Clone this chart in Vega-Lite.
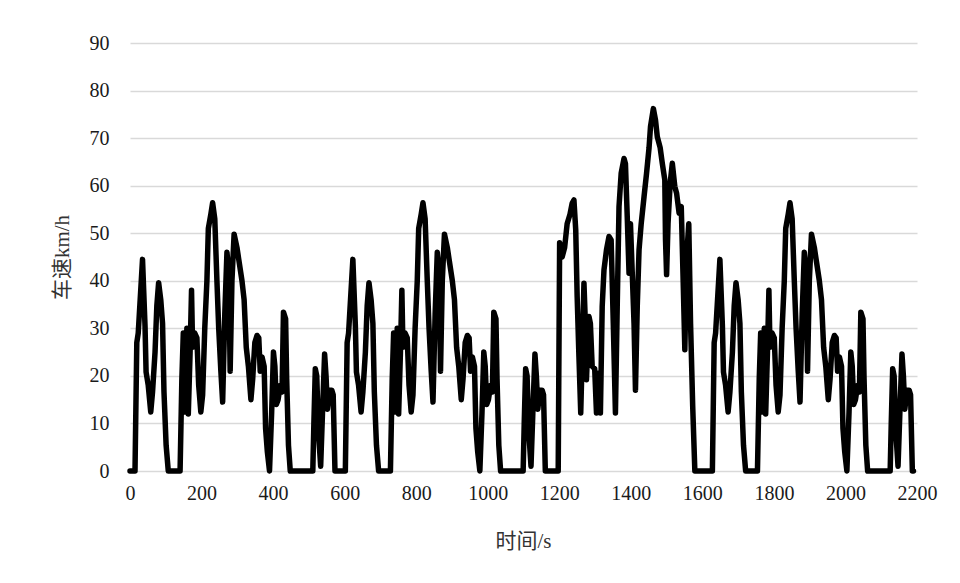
{
  "$schema": "https://vega.github.io/schema/vega-lite/v6.json",
  "width": 787,
  "height": 428,
  "autosize": {"type": "none"},
  "padding": {"left": 130, "top": 43, "right": 43, "bottom": 112},
  "background": "white",
  "config": {"view": {"stroke": null}},
  "data": {"values": [
    {"t":0,"v":0},{"t":14,"v":0},{"t":19,"v":27},{"t":23,"v":29},{"t":35,"v":44.5},{"t":42,"v":30.5},{"t":45,"v":20.8},{"t":51,"v":18},{"t":58,"v":12.4},{"t":63,"v":16.6},{"t":70,"v":25},{"t":75,"v":34.7},{"t":80,"v":39.6},{"t":86,"v":36},{"t":91,"v":31},{"t":95,"v":16.6},{"t":101,"v":5.4},{"t":107,"v":0},{"t":140,"v":0},{"t":145,"v":19.4},{"t":149,"v":29},{"t":154,"v":12.4},{"t":159,"v":30},{"t":163,"v":12},{"t":168,"v":25},{"t":172,"v":38},{"t":175,"v":26},{"t":181,"v":29},{"t":187,"v":28},{"t":192,"v":18},{"t":198,"v":12.4},{"t":203,"v":16},{"t":209,"v":30},{"t":215,"v":40},{"t":219,"v":51},{"t":226,"v":54},{"t":231,"v":56.4},{"t":237,"v":53},{"t":243,"v":40},{"t":248,"v":30},{"t":254,"v":21},{"t":259,"v":14.5},{"t":265,"v":33},{"t":271,"v":46},{"t":276,"v":42},{"t":280,"v":21},{"t":285,"v":40},{"t":291,"v":49.8},{"t":299,"v":47},{"t":304,"v":44.5},{"t":313,"v":40},{"t":319,"v":36},{"t":325,"v":26},{"t":331,"v":22},{"t":338,"v":15},{"t":343,"v":19.4},{"t":349,"v":27},{"t":355,"v":28.5},{"t":360,"v":28},{"t":364,"v":21},{"t":369,"v":24},{"t":375,"v":22},{"t":379,"v":9},{"t":384,"v":4},{"t":390,"v":0},{"t":396,"v":12.4},{"t":401,"v":25},{"t":405,"v":22},{"t":409,"v":14},{"t":414,"v":15},{"t":420,"v":18},{"t":425,"v":16.6},{"t":429,"v":33.4},{"t":435,"v":32},{"t":438,"v":19.4},{"t":443,"v":5.4},{"t":448,"v":0},{"t":511,"v":0},{"t":514,"v":10},{"t":518,"v":21.5},{"t":522,"v":20},{"t":527,"v":8},{"t":533,"v":1},{"t":538,"v":12},{"t":544,"v":24.6},{"t":548,"v":20},{"t":552,"v":13},{"t":558,"v":17},{"t":564,"v":17},{"t":568,"v":16},{"t":573,"v":0},
    {"t":602,"v":0},{"t":607,"v":27},{"t":611,"v":29},{"t":623,"v":44.5},{"t":630,"v":30.5},{"t":633,"v":20.8},{"t":639,"v":18},{"t":646,"v":12.4},{"t":651,"v":16.6},{"t":658,"v":25},{"t":663,"v":34.7},{"t":668,"v":39.6},{"t":674,"v":36},{"t":679,"v":31},{"t":683,"v":16.6},{"t":689,"v":5.4},{"t":695,"v":0},{"t":728,"v":0},{"t":733,"v":19.4},{"t":737,"v":29},{"t":742,"v":12.4},{"t":747,"v":30},{"t":751,"v":12},{"t":756,"v":25},{"t":760,"v":38},{"t":763,"v":26},{"t":769,"v":29},{"t":775,"v":28},{"t":780,"v":18},{"t":786,"v":12.4},{"t":791,"v":16},{"t":797,"v":30},{"t":803,"v":40},{"t":807,"v":51},{"t":814,"v":54},{"t":819,"v":56.4},{"t":825,"v":53},{"t":831,"v":40},{"t":836,"v":30},{"t":842,"v":21},{"t":847,"v":14.5},{"t":853,"v":33},{"t":859,"v":46},{"t":864,"v":42},{"t":868,"v":21},{"t":873,"v":40},{"t":879,"v":49.8},{"t":887,"v":47},{"t":892,"v":44.5},{"t":901,"v":40},{"t":907,"v":36},{"t":913,"v":26},{"t":919,"v":22},{"t":926,"v":15},{"t":931,"v":19.4},{"t":937,"v":27},{"t":943,"v":28.5},{"t":948,"v":28},{"t":952,"v":21},{"t":957,"v":24},{"t":963,"v":22},{"t":967,"v":9},{"t":972,"v":4},{"t":978,"v":0},{"t":984,"v":12.4},{"t":989,"v":25},{"t":993,"v":22},{"t":997,"v":14},{"t":1002,"v":15},{"t":1008,"v":18},{"t":1013,"v":16.6},{"t":1017,"v":33.4},{"t":1023,"v":32},{"t":1026,"v":19.4},{"t":1031,"v":5.4},{"t":1036,"v":0},{"t":1099,"v":0},{"t":1102,"v":10},{"t":1106,"v":21.5},{"t":1110,"v":20},{"t":1115,"v":8},{"t":1121,"v":1},{"t":1126,"v":12},{"t":1132,"v":24.6},{"t":1136,"v":20},{"t":1140,"v":13},{"t":1146,"v":17},{"t":1152,"v":17},{"t":1156,"v":16},{"t":1161,"v":0},
    {"t":1197,"v":0},{"t":1201,"v":48},{"t":1208,"v":45},{"t":1215,"v":47},{"t":1222,"v":52},{"t":1230,"v":54},{"t":1236,"v":56.3},{"t":1241,"v":57},{"t":1246,"v":50.7},{"t":1250,"v":36.7},{"t":1255,"v":24},{"t":1260,"v":12.2},{"t":1264,"v":24},{"t":1269,"v":39.5},{"t":1273,"v":31},{"t":1276,"v":19.2},{"t":1283,"v":32.5},{"t":1287,"v":31},{"t":1292,"v":22},{"t":1299,"v":21.5},{"t":1304,"v":12.2},{"t":1311,"v":20.6},{"t":1315,"v":12.2},{"t":1320,"v":34.6},{"t":1325,"v":42.3},{"t":1332,"v":46.5},{"t":1339,"v":49.3},{"t":1345,"v":48.6},{"t":1351,"v":31},{"t":1357,"v":12.2},{"t":1362,"v":34.6},{"t":1367,"v":55.6},{"t":1373,"v":62.6},{"t":1381,"v":65.7},{"t":1385,"v":64.6},{"t":1390,"v":53.5},{"t":1395,"v":41.6},{"t":1399,"v":52},{"t":1404,"v":41.6},{"t":1409,"v":31},{"t":1413,"v":17},{"t":1418,"v":34.6},{"t":1423,"v":46.5},{"t":1429,"v":52},{"t":1437,"v":57.7},{"t":1444,"v":62.6},{"t":1451,"v":68},{"t":1455,"v":72.4},{"t":1463,"v":76.2},{"t":1469,"v":73.8},{"t":1474,"v":70.3},{"t":1482,"v":68},{"t":1488,"v":64.7},{"t":1495,"v":61.2},{"t":1497,"v":48.6},{"t":1500,"v":41.3},{"t":1504,"v":52},{"t":1510,"v":60.5},{"t":1516,"v":64.7},{"t":1523,"v":59.8},{"t":1528,"v":58.4},{"t":1535,"v":54.2},{"t":1541,"v":55.6},{"t":1547,"v":38},{"t":1551,"v":25.5},{"t":1556,"v":45},{"t":1562,"v":52},{"t":1567,"v":31},{"t":1573,"v":13.6},{"t":1579,"v":0},
    {"t":1628,"v":0},{"t":1633,"v":27},{"t":1637,"v":29},{"t":1649,"v":44.5},{"t":1656,"v":30.5},{"t":1659,"v":20.8},{"t":1665,"v":18},{"t":1672,"v":12.4},{"t":1677,"v":16.6},{"t":1684,"v":25},{"t":1689,"v":34.7},{"t":1694,"v":39.6},{"t":1700,"v":36},{"t":1705,"v":31},{"t":1709,"v":16.6},{"t":1715,"v":5.4},{"t":1721,"v":0},{"t":1754,"v":0},{"t":1759,"v":19.4},{"t":1763,"v":29},{"t":1768,"v":12.4},{"t":1773,"v":30},{"t":1777,"v":12},{"t":1782,"v":25},{"t":1786,"v":38},{"t":1789,"v":26},{"t":1795,"v":29},{"t":1801,"v":28},{"t":1806,"v":18},{"t":1812,"v":12.4},{"t":1817,"v":16},{"t":1823,"v":30},{"t":1829,"v":40},{"t":1833,"v":51},{"t":1840,"v":54},{"t":1845,"v":56.4},{"t":1851,"v":53},{"t":1857,"v":40},{"t":1862,"v":30},{"t":1868,"v":21},{"t":1873,"v":14.5},{"t":1879,"v":33},{"t":1885,"v":46},{"t":1890,"v":42},{"t":1894,"v":21},{"t":1899,"v":40},{"t":1905,"v":49.8},{"t":1913,"v":47},{"t":1918,"v":44.5},{"t":1927,"v":40},{"t":1933,"v":36},{"t":1939,"v":26},{"t":1945,"v":22},{"t":1952,"v":15},{"t":1957,"v":19.4},{"t":1963,"v":27},{"t":1969,"v":28.5},{"t":1974,"v":28},{"t":1978,"v":21},{"t":1983,"v":24},{"t":1989,"v":22},{"t":1993,"v":9},{"t":1998,"v":4},{"t":2004,"v":0},{"t":2010,"v":12.4},{"t":2015,"v":25},{"t":2019,"v":22},{"t":2023,"v":14},{"t":2028,"v":15},{"t":2034,"v":18},{"t":2039,"v":16.6},{"t":2043,"v":33.4},{"t":2049,"v":32},{"t":2052,"v":19.4},{"t":2057,"v":5.4},{"t":2062,"v":0},{"t":2125,"v":0},{"t":2128,"v":10},{"t":2132,"v":21.5},{"t":2136,"v":20},{"t":2141,"v":8},{"t":2147,"v":1},{"t":2152,"v":12},{"t":2158,"v":24.6},{"t":2162,"v":20},{"t":2166,"v":13},{"t":2172,"v":17},{"t":2178,"v":17},{"t":2182,"v":16},{"t":2187,"v":0},{"t":2190,"v":0}
  ]},
  "mark": {"type": "line", "color": "black", "strokeWidth": 5.5, "strokeJoin": "round", "strokeCap": "round"},
  "encoding": {
    "x": {
      "field": "t", "type": "quantitative",
      "scale": {"domain": [0, 2200], "nice": false, "zero": false},
      "axis": {
        "title": "时间/s",
        "values": [0,200,400,600,800,1000,1200,1400,1600,1800,2000,2200],
        "format": "d",
        "grid": false, "ticks": false, "domain": false,
        "labelFont": "Liberation Serif", "labelFontSize": 20, "labelColor": "#1a1a1a", "labelPadding": 12,
        "labelFlush": false,
        "titleFont": "Liberation Serif, Noto Sans CJK SC", "titleFontSize": 21, "titleFontWeight": "normal", "titleColor": "#333333",
        "titleX": 393, "titleY": 70, "titleBaseline": "middle"
      }
    },
    "y": {
      "field": "v", "type": "quantitative",
      "scale": {"domain": [0, 90], "nice": false},
      "axis": {
        "title": "车速km/h",
        "values": [0,10,20,30,40,50,60,70,80,90],
        "format": "d",
        "grid": true, "gridColor": "#d9d9d9", "gridWidth": 1.5,
        "ticks": false, "domain": false,
        "labelFont": "Liberation Serif", "labelFontSize": 20, "labelColor": "#1a1a1a", "labelPadding": 21,
        "titleFont": "Liberation Serif, Noto Sans CJK SC", "titleFontSize": 21, "titleFontWeight": "normal", "titleColor": "#333333",
        "titleX": -68, "titleY": 214, "titleAngle": -90, "titleBaseline": "middle", "titleAlign": "center"
      }
    }
  }
}
